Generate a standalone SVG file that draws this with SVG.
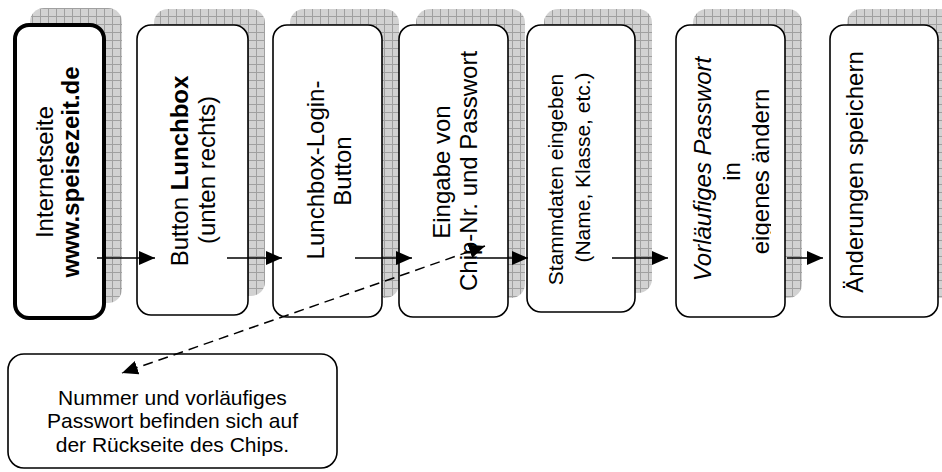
<svg xmlns="http://www.w3.org/2000/svg" width="942" height="472" viewBox="0 0 942 472">
<defs>
<pattern id="grid" width="8" height="8" patternUnits="userSpaceOnUse">
<rect width="8" height="8" fill="#d2d2d2"/>
<path d="M0 0.5H8M0.5 0V8" stroke="#a0a0a0" stroke-width="1"/>
</pattern>
<marker id="ah" markerWidth="16" markerHeight="14" refX="16" refY="7" orient="auto-start-reverse" markerUnits="userSpaceOnUse">
<path d="M0,0 L16,7 L0,14 z" fill="#000"/>
</marker>
<clipPath id="c6"><rect x="676" y="20" width="95" height="300"/></clipPath>
</defs>
<style>
.sh{fill:url(#grid);}
.bx{fill:#fff;stroke:#000;stroke-width:1.6;}
.t{font-family:"Liberation Sans",Arial,sans-serif;font-size:24px;fill:#000;text-anchor:middle;}
.s{font-size:21px;}
.b{font-weight:bold;}
.i{font-style:italic;}
.c{stroke:#000;stroke-width:1.5;fill:none;}
.d{stroke-dasharray:10 6;}
</style>
<g id="n1">
<rect class="sh" x="30" y="8" width="92" height="295" rx="14"/>
<rect class="bx" x="15" y="25" width="89" height="293" rx="14" style="stroke-width:4"/>
<text class="t" transform="translate(53,172) rotate(-90)">Internetseite</text>
<text class="t b" transform="translate(79,172) rotate(-90)">www.speisezeit.de</text>
</g>
<g id="n2">
<rect class="sh" x="154" y="9" width="111" height="287" rx="14"/>
<rect class="bx" x="137" y="25" width="111" height="290" rx="14"/>
<text class="t" transform="translate(188,171) rotate(-90)">Button <tspan class="b">Lunchbox</tspan></text>
<text class="t" transform="translate(215,170) rotate(-90)">(unten rechts)</text>
</g>
<g id="n3">
<rect class="sh" x="290" y="9" width="109" height="289" rx="14"/>
<rect class="bx" x="273" y="25" width="109" height="292" rx="14"/>
<text class="t" transform="translate(324,170) rotate(-90)">Lunchbox-Login-</text>
<text class="t" transform="translate(351,171) rotate(-90)">Button</text>
</g>
<g id="n4">
<rect class="sh" x="416" y="9" width="109" height="289" rx="14"/>
<rect class="bx" x="399" y="25" width="109" height="292" rx="14"/>
<text class="t" transform="translate(450,172) rotate(-90)">Eingabe von</text>
<text class="t" transform="translate(477,171) rotate(-90)">Chip-Nr. und Passwort</text>
</g>
<g id="n5">
<rect class="sh" x="544" y="9" width="108" height="284" rx="14"/>
<rect class="bx" x="527" y="25" width="108" height="287" rx="14"/>
<text class="t s" transform="translate(563,179.5) rotate(-90)">Stammdaten eingeben</text>
<text class="t s" transform="translate(590,167.5) rotate(-90)">(Name, Klasse, etc.)</text>
</g>
<g id="n6">
<rect class="sh" x="693" y="9" width="109" height="289" rx="14"/>
<rect class="bx" x="676" y="25" width="109" height="292" rx="14"/>
<text class="t i" transform="translate(711,169) rotate(-90)">Vorläufiges Passwort</text>
<text class="t" transform="translate(740,171.5) rotate(-90)">in</text>
<g clip-path="url(#c6)">
<text class="t" transform="translate(769,171.5) rotate(-90)">eigenes ändern</text>
</g>
</g>
<g id="n7">
<rect class="sh" x="847" y="9" width="109" height="289" rx="14"/>
<rect class="bx" x="830" y="25" width="108" height="292" rx="14"/>
<text class="t" transform="translate(863,172) rotate(-90)">Änderungen speichern</text>
</g>
<g id="note">
<rect class="bx" x="8" y="354" width="329" height="114" rx="16"/>
<text class="t s" x="172.5" y="405">Nummer und vorläufiges</text>
<text class="t s" x="172.5" y="428">Passwort befinden sich auf</text>
<text class="t s" x="172.5" y="452">der Rückseite des Chips.</text>
</g>
<g id="connectors">
<line class="c" x1="97" y1="258" x2="155" y2="258" marker-end="url(#ah)"/>
<line class="c" x1="227" y1="258" x2="282" y2="258" marker-end="url(#ah)"/>
<line class="c" x1="355" y1="258" x2="412" y2="258" marker-end="url(#ah)"/>
<line class="c" x1="477" y1="258" x2="528" y2="258" marker-end="url(#ah)"/>
<line class="c" x1="612" y1="258" x2="668" y2="258" marker-end="url(#ah)"/>
<line class="c" x1="787" y1="258" x2="823" y2="258" marker-end="url(#ah)"/>
<line class="c d" x1="485" y1="246" x2="122" y2="373" marker-start="url(#ah)" marker-end="url(#ah)"/>
</g>
</svg>
